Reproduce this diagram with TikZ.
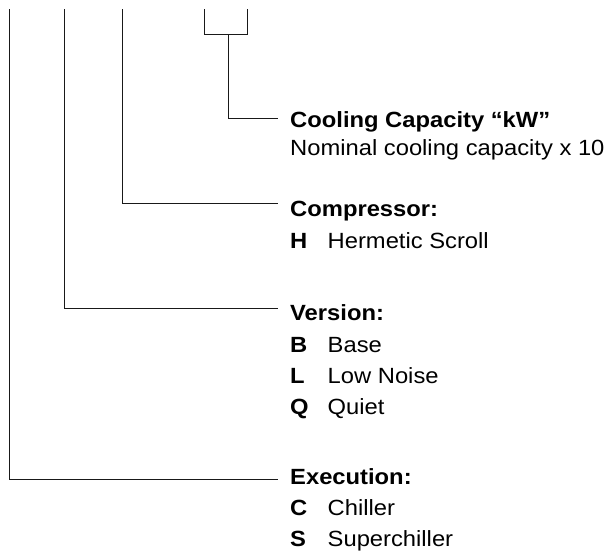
\documentclass[tikz,border=0pt]{standalone}
\usepackage{fontspec}
\setmainfont[FakeStretch=1.08]{Liberation Sans}
\begin{document}
\begin{tikzpicture}[x=1pt,y=-1pt,
  conn/.style={draw=black!90,line width=0.9pt},
  txt/.style={anchor=base west,inner sep=0pt,font=\fontsize{22}{26}\selectfont},
  ttl/.style={txt,font=\fontsize{22}{26}\selectfont\bfseries}]
\useasboundingbox (0,0) rectangle (607,552);
% free ends at the top
\coordinate (tE) at (9,9);
\coordinate (tV) at (64,9);
\coordinate (tC) at (122,9);
\coordinate (tKa) at (204,9);
\coordinate (tKb) at (247,9);
\coordinate (kL) at (204,34);
\coordinate (kR) at (247,34);
\coordinate (kM) at (228,34);
% ends of the leaders
\coordinate (eK) at (278,118);
\coordinate (eC) at (278,203);
\coordinate (eV) at (278,308);
\coordinate (eE) at (278,479);
% texts
\node[ttl] (cap) at (290,127) {Cooling Capacity “kW”};
\node[txt] (capd) at (290,155) {Nominal cooling capacity x 10};
\node[ttl] (comp) at (290,216) {Compressor:};
\node[ttl] (compH) at (290,248) {H};
\node[txt] (compHd) at (327.5,248) {Hermetic Scroll};
\node[ttl] (ver) at (290,320) {Version:};
\node[ttl] (verB) at (290,352) {B};
\node[txt] (verBd) at (327.5,352) {Base};
\node[ttl] (verL) at (290,383) {L};
\node[txt] (verLd) at (327.5,383) {Low Noise};
\node[ttl] (verQ) at (290,414) {Q};
\node[txt] (verQd) at (327.5,414) {Quiet};
\node[ttl] (exe) at (290,484) {Execution:};
\node[ttl] (exeC) at (290,515) {C};
\node[txt] (exeCd) at (327.5,515) {Chiller};
\node[ttl] (exeS) at (290,546) {S};
\node[txt] (exeSd) at (327.5,546) {Superchiller};
% connectors
\draw[conn] (tKa) -- (kL) -- (kR) -- (tKb);
\draw[conn] (kM) |- (eK);
\draw[conn] (tC) |- (eC);
\draw[conn] (tV) |- (eV);
\draw[conn] (tE) |- (eE);
\end{tikzpicture}
\end{document}
